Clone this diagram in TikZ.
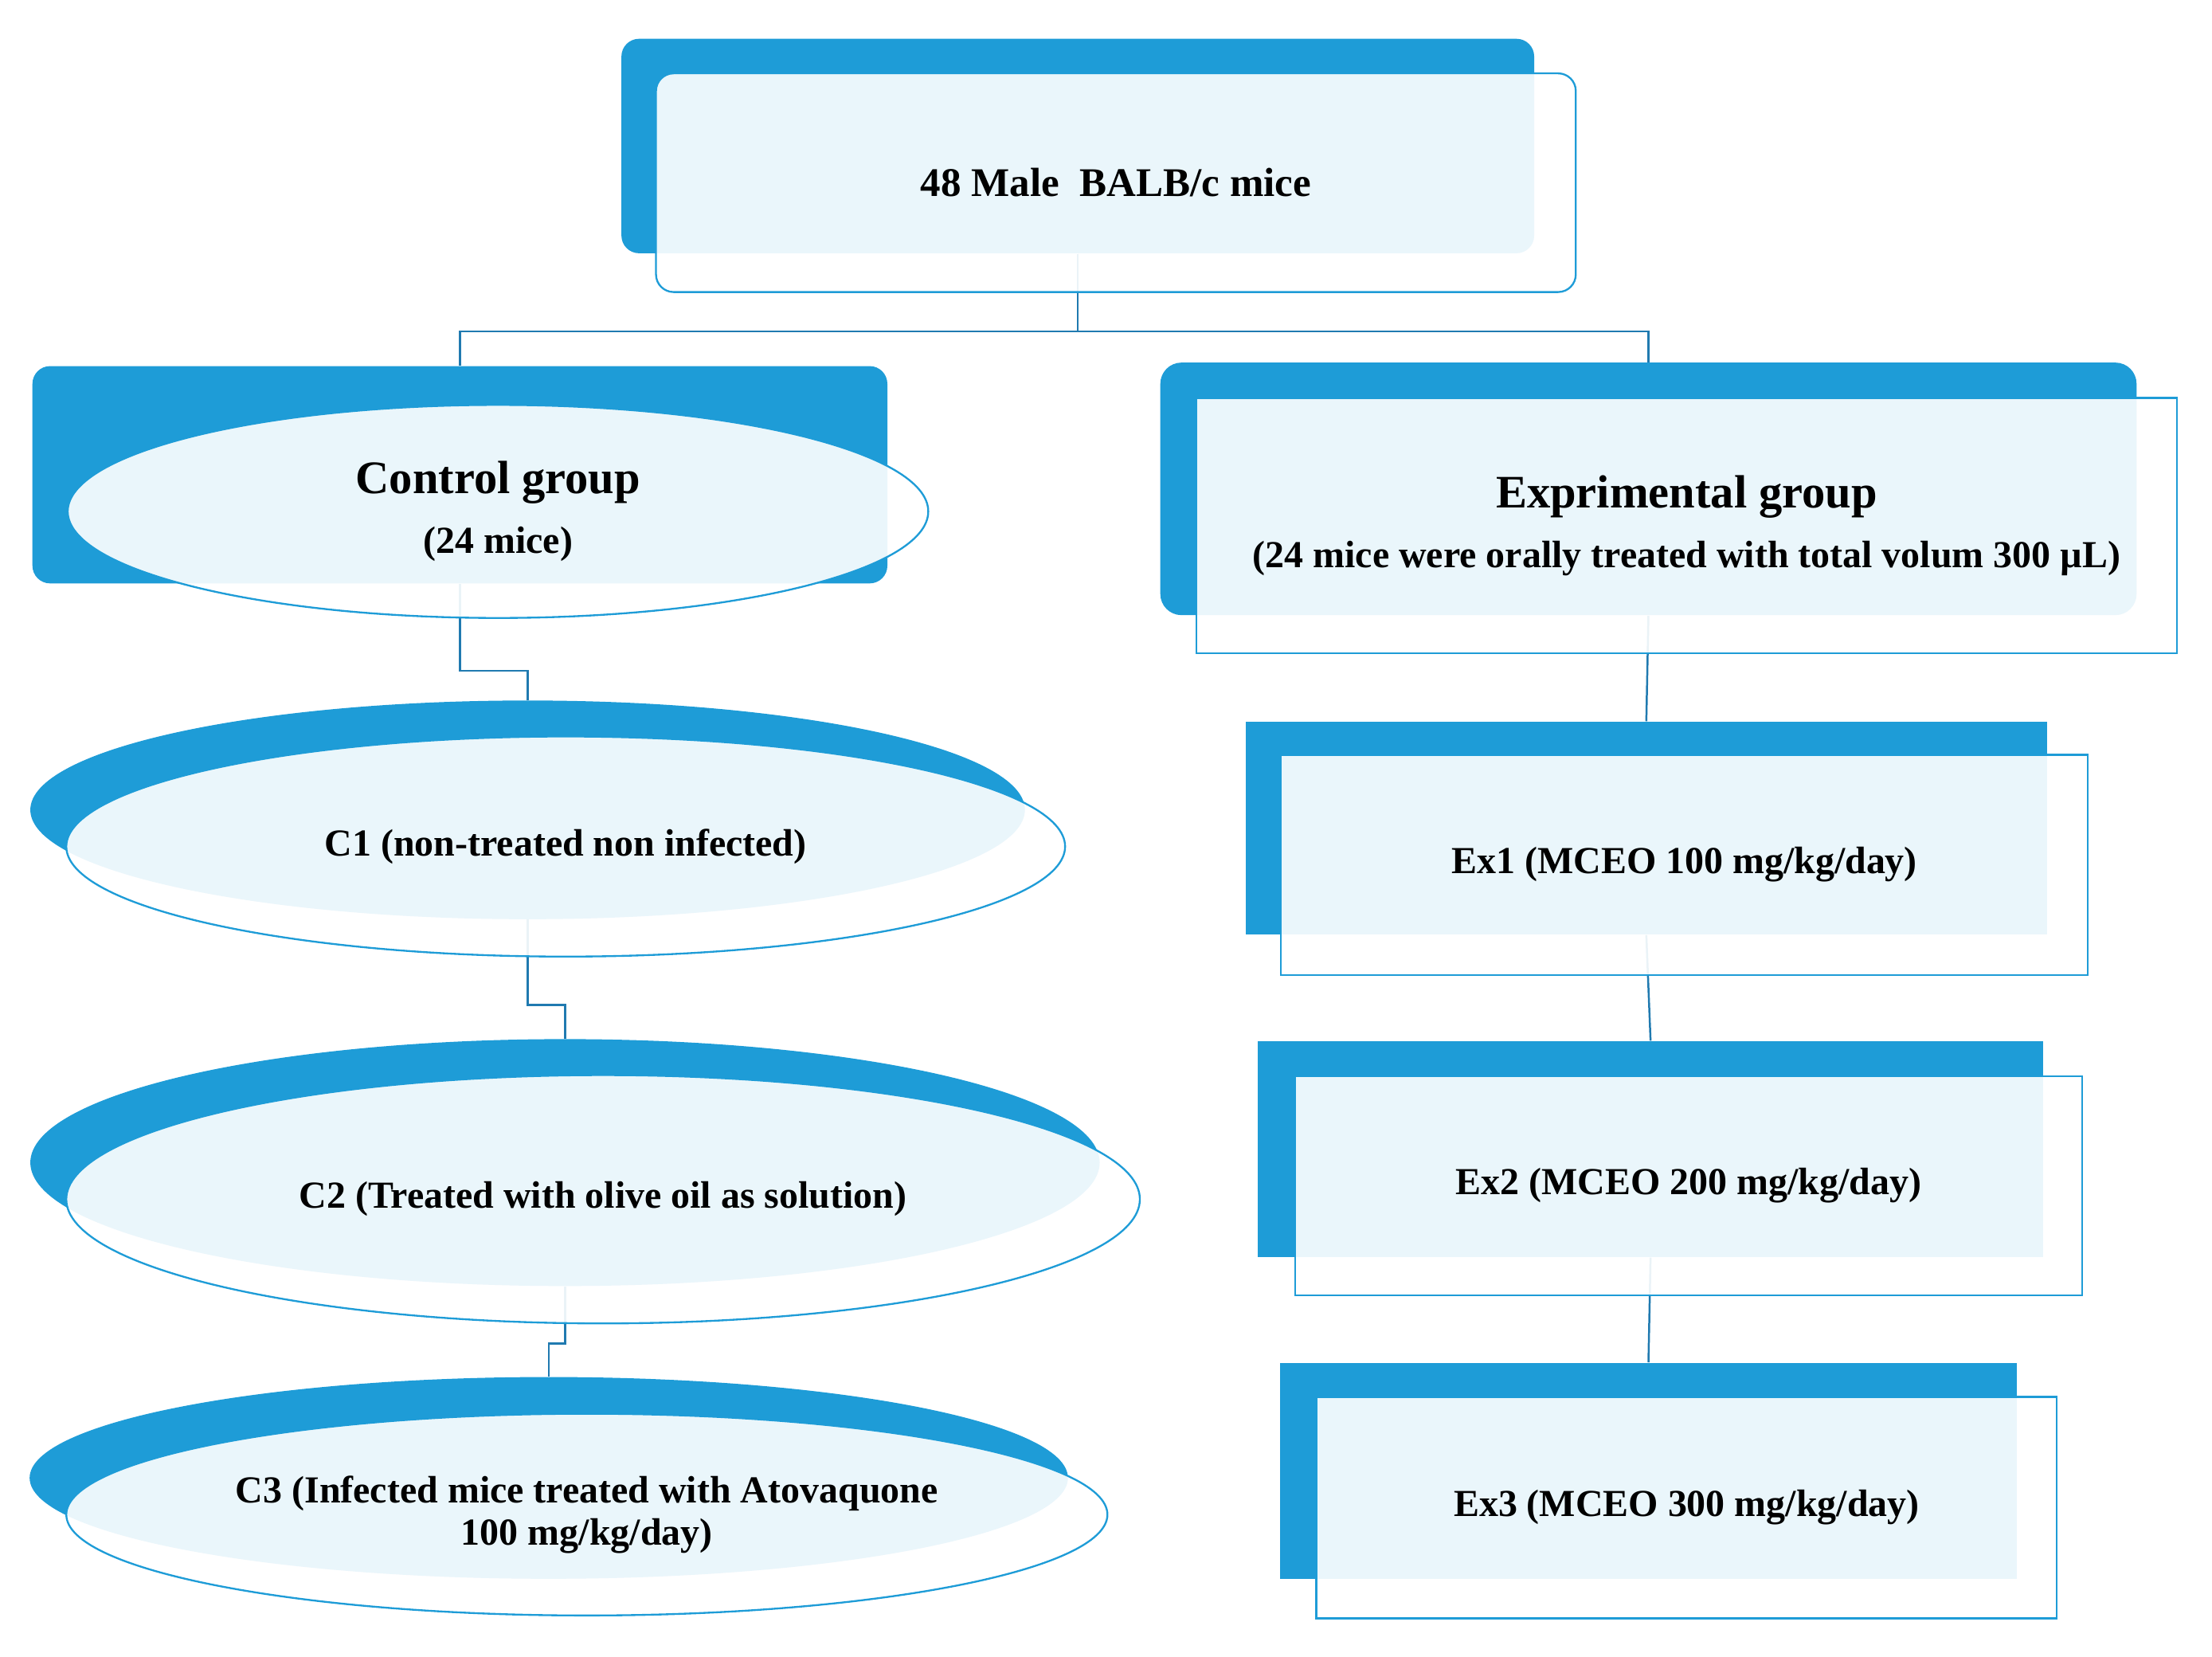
\documentclass[tikz,border=0pt]{standalone}
\usepackage{fontspec}
\setmainfont{Liberation Serif}
\usetikzlibrary{
    positioning,
    shapes.geometric,
    backgrounds
}
\definecolor{smblue}{RGB}{30,156,215}
\definecolor{linkblue}{RGB}{32,122,176}
\newcommand{\grouphead}{\fontsize{18.8pt}{22pt}\selectfont}

\begin{document}
\begin{tikzpicture}[
        every node/.style={font=\bfseries\fontsize{15.4pt}{17pt}\selectfont},
        front/.style={
            draw=smblue,
            line width=0.75pt,
            fill=white,
            fill opacity=0.91,
            text opacity=1,
            inner sep=0pt,
            align=center
        },
        frontbox/.style={front, rectangle},
        frontoval/.style={front, ellipse},
        backbox/.style={
            rectangle,
            fill=smblue,
            inner sep=0pt,
            xshift=-0.54cm,
            yshift=0.52cm
        },
        backoval/.style={
            ellipse,
            fill=smblue,
            inner sep=0pt,
            xshift=-0.54cm,
            yshift=0.52cm
        },
        link/.style={
            draw=linkblue,
            line width=0.8pt
        }
    ]

    \useasboundingbox (0,0) rectangle (31.36,-23.48);

    \node[frontbox, rounded corners=0.25cm, minimum width=13.04cm, minimum height=3.10cm] (mice)
        at (15.82,-2.59) {\fontsize{16.4pt}{19pt}\selectfont 48 Male~ BALB/c mice};

    \node[frontoval, minimum width=12.2cm, minimum height=3.02cm] (ctrl)
        at (7.06,-7.25) {{\grouphead Control group}\\[7pt](24 mice)};
    \node[frontbox, minimum width=13.9cm, minimum height=3.62cm] (exp)
        at (23.91,-7.45) {{\grouphead Exprimental group}\\[7pt](24 mice were orally treated with total volum 300 µL)};

    \node[frontoval, minimum width=14.16cm, minimum height=3.12cm] (cone)
        at (8.02,-12.0) {C1 (non-treated non infected)};
    \node[frontoval, minimum width=15.22cm, minimum height=3.52cm] (ctwo)
        at (8.55,-17.0) {C2 (Treated with olive oil as solution)};
    \node[frontoval, minimum width=14.76cm, minimum height=2.86cm] (cthree)
        at (8.32,-21.47) {C3 (Infected mice treated with Atovaquone\\100 mg/kg/day)};

    \node[frontbox, minimum width=11.44cm, minimum height=3.12cm] (exone)
        at (23.88,-12.26) {Ex1 (MCEO 100 mg/kg/day)};
    \node[frontbox, minimum width=11.16cm, minimum height=3.10cm] (extwo)
        at (23.94,-16.81) {Ex2 (MCEO 200 mg/kg/day)};
    \node[frontbox, minimum width=10.5cm, minimum height=3.14cm] (exthree)
        at (23.91,-21.37) {Ex3 (MCEO 300 mg/kg/day)};

    \begin{scope}[on background layer]
        \node[backbox, rounded corners=0.25cm, minimum width=12.94cm, minimum height=3.04cm] (miceb) at (mice.center) {};
        \node[backbox, rounded corners=0.25cm, minimum width=12.12cm, minimum height=3.08cm] (ctrlb) at (ctrl.center) {};
        \node[backbox, rounded corners=0.3cm, minimum width=13.84cm, minimum height=3.58cm] (expb) at (exp.center) {};
        \node[backoval, minimum width=14.1cm, minimum height=3.1cm] (coneb) at (cone.center) {};
        \node[backoval, minimum width=15.16cm, minimum height=3.5cm] (ctwob) at (ctwo.center) {};
        \node[backoval, minimum width=14.72cm, minimum height=2.86cm] (cthreeb) at (cthree.center) {};
        \node[backbox, minimum width=11.36cm, minimum height=3.02cm] (exoneb) at (exone.center) {};
        \node[backbox, minimum width=11.14cm, minimum height=3.06cm] (extwob) at (extwo.center) {};
        \node[backbox, minimum width=10.44cm, minimum height=3.06cm] (exthreeb) at (exthree.center) {};

        \draw[link] (miceb.south) -- ++(0,-1.1) -| (ctrlb.north);
        \draw[link] (miceb.south) -- ++(0,-1.1) -| (expb.north);

        \draw[link] (ctrlb.south) -- ++(0,-1.23) -| (coneb.north);
        \draw[link] (coneb.south) -- ++(0,-1.21) -| (ctwob.north);
        \draw[link] (ctwob.south) -- ++(0,-0.81) -| (cthreeb.north);

        \draw[link] (expb.south) -- (exoneb.north);
        \draw[link] (exoneb.south) -- (extwob.north);
        \draw[link] (extwob.south) -- (exthreeb.north);
    \end{scope}

\end{tikzpicture}
\end{document}
